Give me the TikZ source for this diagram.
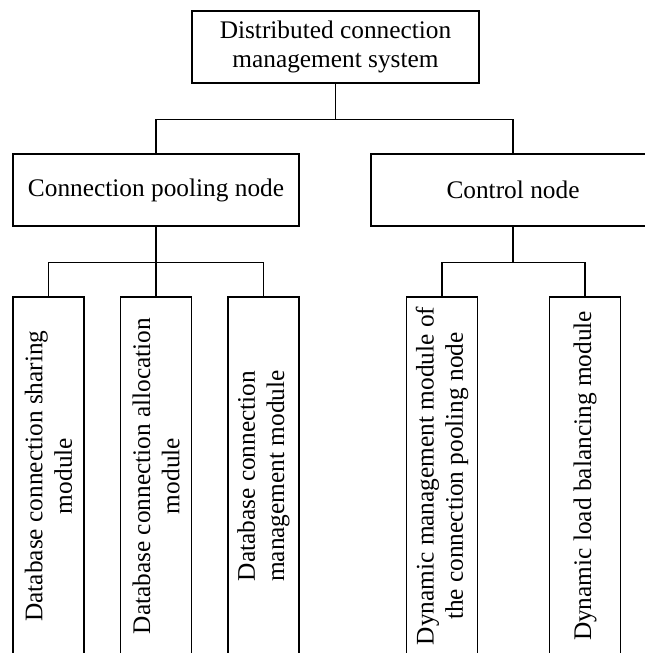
\documentclass[tikz,border=0pt]{standalone}
\usepackage{fontspec}
\setmainfont{Liberation Serif}

\tikzset{every picture/.style={line width=1pt}}
\tikzset{
  box/.style={draw, inner sep=0.75pt, align=center, font=\fontsize{19}{22}\selectfont},
  upbox/.style={box, rotate=90, minimum width=268.5pt, minimum height=53.25pt}
}

\begin{document}
\begin{tikzpicture}[x=0.75pt,y=0.75pt,yscale=-1,xscale=1]
\useasboundingbox (0,0) rectangle (645,653);
\clip (0,0) rectangle (645,653);

% Text Node
\node [box, minimum width=215.25pt, minimum height=54pt] (dcms) at (335.5,47) {Distributed connection\\management system};
% Text Node
\node [box, minimum width=214.5pt, minimum height=54pt] (pool) at (156,190) {Connection pooling node};
% Text Node
\node [box, minimum width=213pt, minimum height=54pt] (ctrl) at (513,190) {Control node};

% Text Node
\node [upbox] (share) at (48.5,476) {Database connection sharing\\module};
% Text Node
\node [upbox] (alloc) at (156,476) {Database connection allocation\\module};
% Text Node
\node [upbox] (mgmt) at (263.5,476) {Database connection\\management module};
% Text Node
\node [upbox] (dyn) at (442,476) {Dynamic management module of\\the connection pooling node};
% Text Node
\node [upbox] (load) at (585,476) {Dynamic load balancing module};

%Straight Lines
\draw (dcms.south) -- ++(0,36) -| (pool);
\draw (dcms.south) -- ++(0,36) -| (ctrl);
%Straight Lines
\draw (pool.south) -- ++(0,36) -| (share);
\draw (pool.south) -- (alloc);
\draw (pool.south) -- ++(0,36) -| (mgmt);
%Straight Lines
\draw (ctrl.south) -- ++(0,36) -| (dyn);
\draw (ctrl.south) -- ++(0,36) -| (load);

\end{tikzpicture}
\end{document}
